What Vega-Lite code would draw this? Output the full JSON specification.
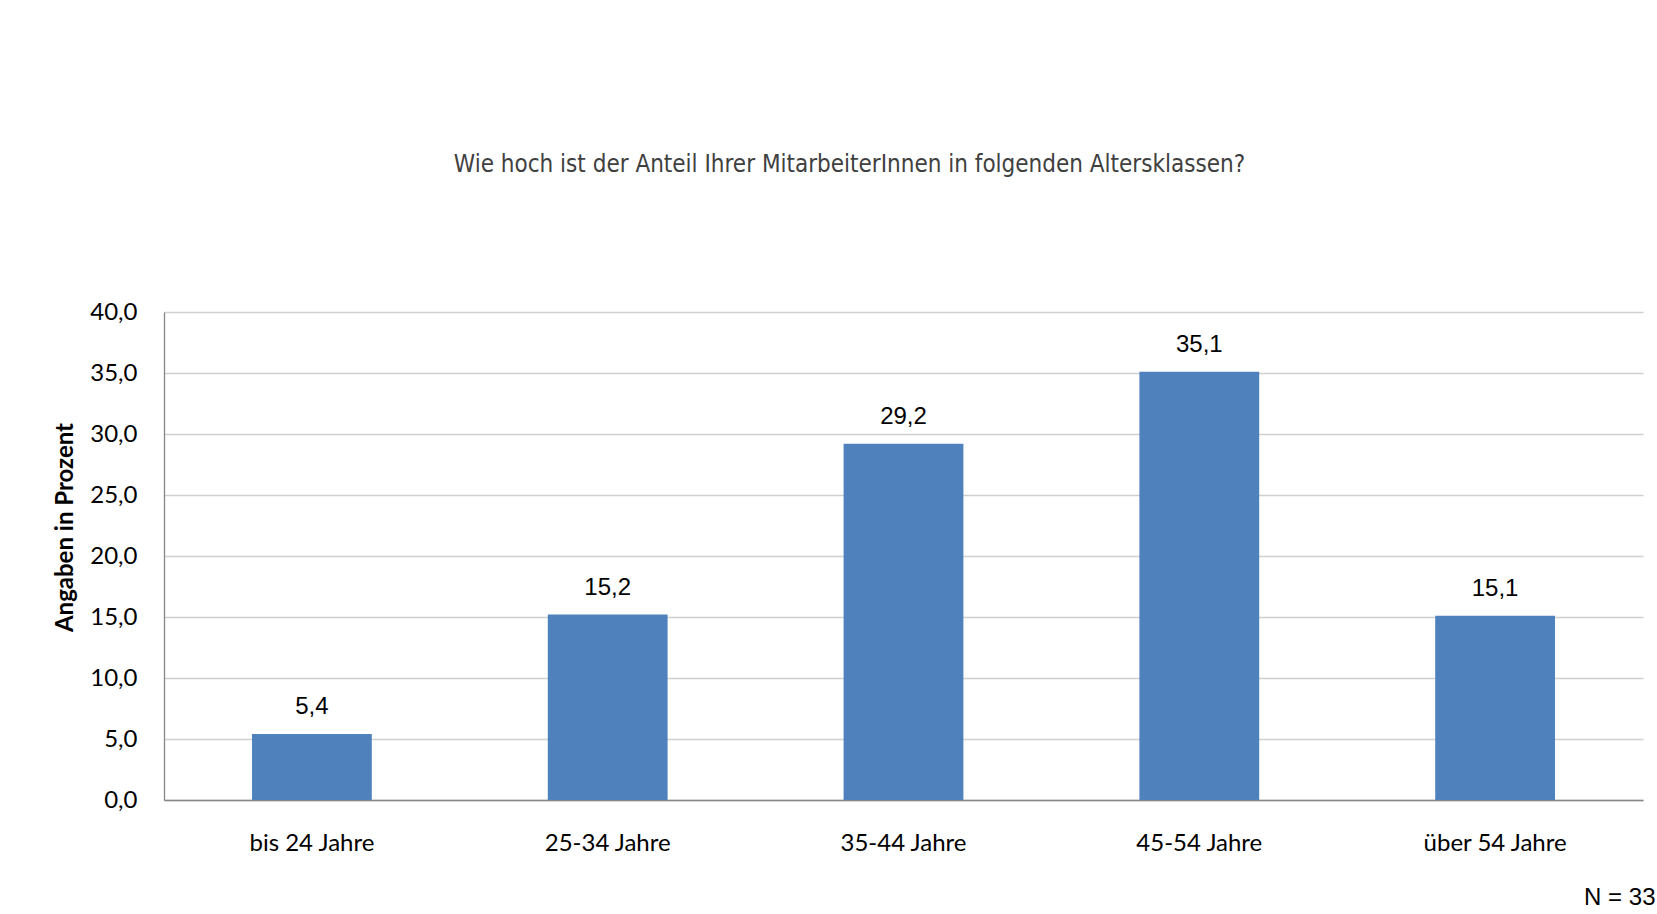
{
  "$schema": "https://vega.github.io/schema/vega-lite/v6.json",
  "width": 1479,
  "height": 488,
  "autosize": {"type": "none"},
  "padding": {"left": 164, "top": 312, "right": 14, "bottom": 114},
  "background": "white",
  "title": {
    "text": "Wie hoch ist der Anteil Ihrer MitarbeiterInnen in folgenden Altersklassen?",
    "font": "DejaVu Sans Condensed, Roboto Condensed, Liberation Sans Narrow, Roboto",
    "fontSize": 24,
    "fontWeight": "normal",
    "color": "#404040",
    "anchor": "middle",
    "frame": "group",
    "baseline": "middle",
    "offset": 111,
    "dx": -54
  },
  "data": {
    "values": [
      {"Altersklasse": "bis 24 Jahre", "Anteil": 5.4},
      {"Altersklasse": "25-34 Jahre", "Anteil": 15.2},
      {"Altersklasse": "35-44 Jahre", "Anteil": 29.2},
      {"Altersklasse": "45-54 Jahre", "Anteil": 35.1},
      {"Altersklasse": "über 54 Jahre", "Anteil": 15.1}
    ]
  },
  "encoding": {
    "x": {
      "field": "Altersklasse",
      "type": "nominal",
      "sort": null,
      "scale": {"paddingInner": 0.595, "paddingOuter": 0.2975},
      "axis": {
        "title": "N = 33",
        "titleFont": "Liberation Sans",
        "titleFontSize": 24,
        "titleFontWeight": "normal",
        "titleColor": "#000000",
        "titleX": 1491,
        "titleY": 97,
        "titleAlign": "right",
        "titleBaseline": "middle",
        "labelAngle": 0,
        "labelFont": "Lato",
        "labelFontSize": 24,
        "labelColor": "#000000",
        "labelBaseline": "middle",
        "labelPadding": 43,
        "ticks": false,
        "tickSize": 0,
        "domainColor": "#868686",
        "domainWidth": 1.3,
        "grid": false
      }
    },
    "y": {
      "field": "Anteil",
      "type": "quantitative",
      "scale": {"domain": [0, 40]},
      "axis": {
        "title": "Angaben in Prozent",
        "titleFont": "Lato",
        "titleFontSize": 24,
        "titleFontWeight": "bold",
        "titleColor": "#000000",
        "titleAngle": 270,
        "titleX": -99,
        "titleY": 215,
        "titleAlign": "center",
        "titleBaseline": "middle",
        "values": [0, 5, 10, 15, 20, 25, 30, 35, 40],
        "format": ".1f",
        "labelFont": "Lato",
        "labelFontSize": 24,
        "labelColor": "#000000",
        "labelPadding": 27,
        "ticks": false,
        "tickSize": 0,
        "domainColor": "#868686",
        "domainWidth": 1.3,
        "grid": true,
        "gridColor": "#d0d0d0",
        "gridWidth": 1.3
      }
    }
  },
  "layer": [
    {"mark": {"type": "bar", "color": "#4F81BD"}},
    {
      "mark": {"type": "text", "font": "Liberation Sans", "fontSize": 24, "color": "#000000", "baseline": "middle", "dy": -27},
      "encoding": {"text": {"field": "Anteil", "type": "quantitative", "format": ".1f"}}
    }
  ],
  "config": {
    "view": {"stroke": null},
    "locale": {"number": {"decimal": ",", "thousands": ".", "grouping": [3], "currency": ["", " €"]}}
  }
}
